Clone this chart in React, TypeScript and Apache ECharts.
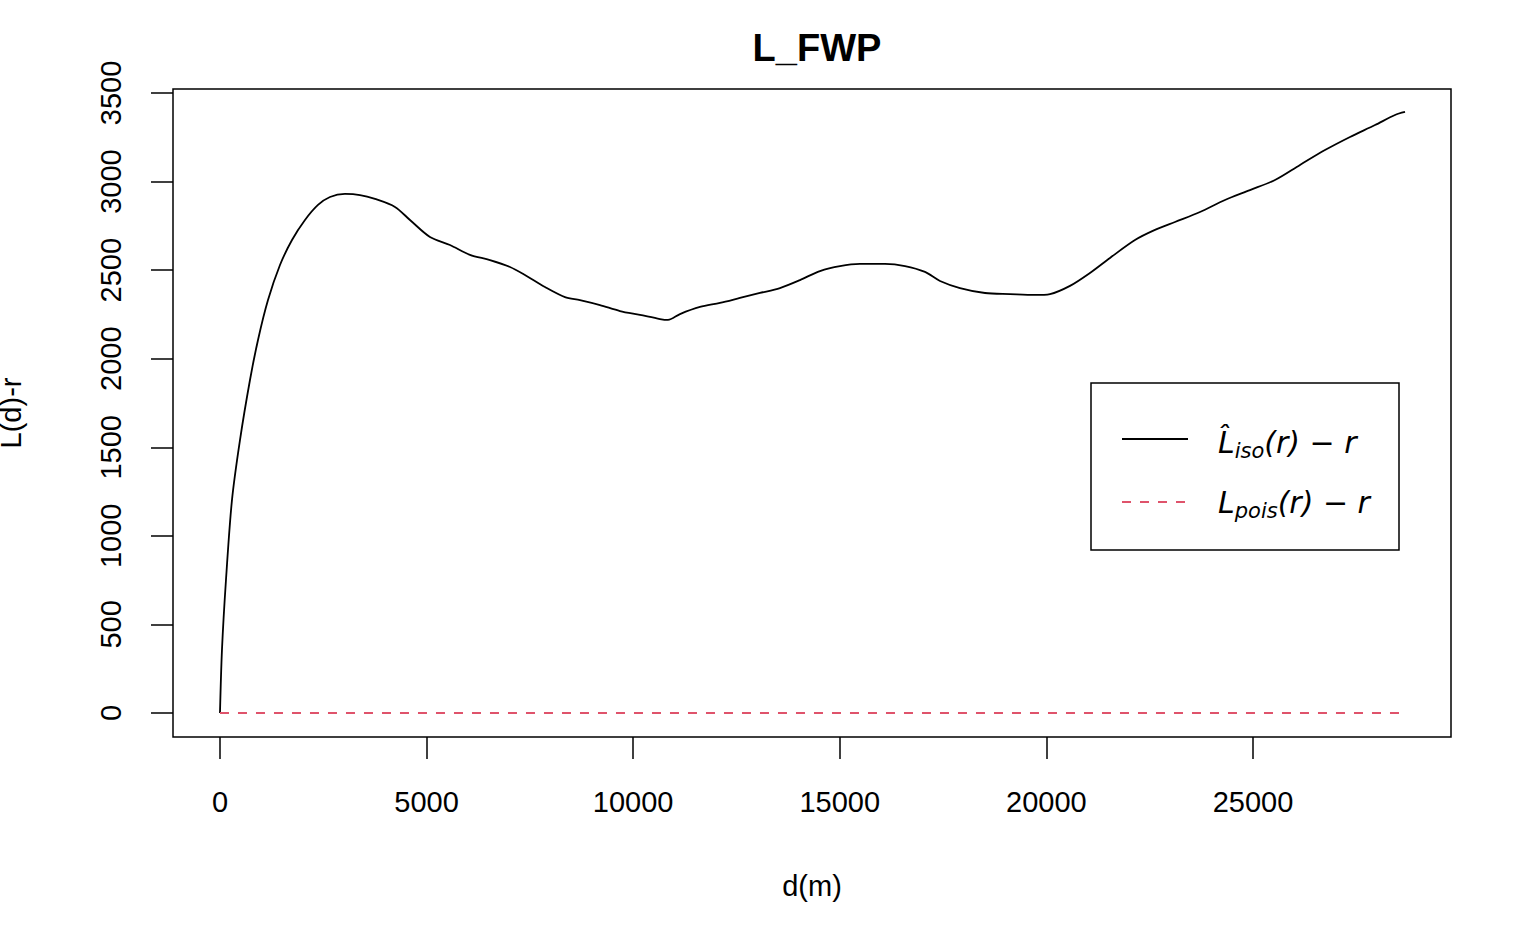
import React, { useEffect, useRef } from "react";
import * as echarts from "echarts";

const distances = [0, 48, 145, 290, 484, 726, 920, 1162, 1452, 1743, 2057, 2372, 2662, 3025, 3388, 3751, 4235, 4598, 5082, 5566, 6050, 6534, 7018, 7381, 7865, 8349, 8712, 9196, 9680, 10164, 10648, 10842, 11132, 11616, 12100, 12584, 13068, 13552, 14037, 14521, 15005, 15489, 16094, 16578, 17062, 17425, 17909, 18514, 19119, 19724, 20087, 20571, 21055, 21539, 22144, 22628, 23112, 23717, 24322, 24927, 25532, 26137, 26742, 27348, 27953, 28437, 28679];
const lIso = [0, 356, 751, 1202, 1541, 1880, 2106, 2331, 2529, 2670, 2783, 2868, 2913, 2930, 2924, 2902, 2857, 2783, 2687, 2642, 2586, 2557, 2518, 2473, 2405, 2348, 2331, 2303, 2269, 2247, 2224, 2219, 2252, 2292, 2315, 2343, 2371, 2399, 2444, 2495, 2523, 2535, 2535, 2523, 2490, 2439, 2399, 2371, 2365, 2360, 2365, 2411, 2484, 2569, 2670, 2727, 2772, 2828, 2896, 2952, 3009, 3094, 3178, 3252, 3319, 3376, 3393];
const poisX = [0, 28679];
const poisY = [0, 0];
const xTicks = [0, 5000, 10000, 15000, 20000, 25000];
const yTicks = [0, 500, 1000, 1500, 2000, 2500, 3000, 3500];

export default function App() {
  const ref = useRef<HTMLDivElement>(null);
  useEffect(() => {
    document.body.style.margin = "0";
    const chart = echarts.init(ref.current!, null, { renderer: "svg" });
    const font = "'Liberation Sans', Arial, sans-serif";
    const sub = {
      m: { fontFamily: "'DejaVu Sans'", fontStyle: "italic", fontSize: 30, color: "#000" },
      s: { fontFamily: "'DejaVu Sans'", fontStyle: "italic", fontSize: 21, color: "#000", padding: [18, 0, 0, 0] },
    };
    chart.setOption({
      animation: false,
      backgroundColor: "#fff",
      title: {
        text: "L_FWP", left: 812, top: 24, textAlign: "center",
        textStyle: { fontFamily: font, fontSize: 38, fontWeight: "bold", color: "#000" },
      },
      grid: { left: 173, top: 89, right: 69, bottom: 197, show: true, borderColor: "#000", borderWidth: 1.5, outerBoundsMode: "none", containLabel: false },
      xAxis: {
        type: "value", min: -1137, max: 29792,
        name: "d(m)", nameLocation: "middle", nameGap: 134,
        nameTextStyle: { fontFamily: font, fontSize: 29, color: "#000" },
        axisLine: { show: false, onZero: false },
        splitLine: { show: false },
        axisTick: { show: true, length: 22, inside: false, customValues: xTicks, lineStyle: { color: "#000", width: 1.5 } },
        axisLabel: { customValues: xTicks, margin: 50, fontFamily: font, fontSize: 29, color: "#000", formatter: (v: number) => String(v) },
      },
      yAxis: {
        type: "value", min: -135.5, max: 3522.6,
        name: "L(d)-r", nameLocation: "middle", nameGap: 148, nameRotate: 90,
        nameTextStyle: { fontFamily: font, fontSize: 29, color: "#000" },
        axisLine: { show: false, onZero: false },
        splitLine: { show: false },
        axisTick: { show: true, length: 22, inside: false, customValues: yTicks, lineStyle: { color: "#000", width: 1.5 } },
        axisLabel: { customValues: yTicks, rotate: 90, margin: 48, fontFamily: font, fontSize: 29, color: "#000", align: "center", verticalAlign: "bottom", formatter: (v: number) => String(v) },
      },
      series: [
        {
          type: "line", data: distances.map((d, i) => [d, lIso[i]]), showSymbol: false, smooth: 0.3,
          lineStyle: { color: "#000", width: 1.8 },
        },
        {
          type: "line", data: poisX.map((d, i) => [d, poisY[i]]), showSymbol: false,
          lineStyle: { color: "#DF536B", width: 1.8, type: [9, 9] },
        },
      ],
      graphic: [
        { type: "rect", shape: { x: 1091, y: 383, width: 308, height: 167 }, style: { fill: "#fff", stroke: "#000", lineWidth: 1.5 } },
        { type: "line", shape: { x1: 1122, y1: 439, x2: 1188, y2: 439 }, style: { stroke: "#000", lineWidth: 1.8 } },
        { type: "line", shape: { x1: 1122, y1: 502, x2: 1188, y2: 502 }, style: { stroke: "#DF536B", lineWidth: 1.8, lineDash: [9, 9] } },
        { type: "text", x: 1218, y: 442, style: { text: "{m|L̂}{s|iso}{m|(r) − r}", verticalAlign: "middle", rich: sub } },
        { type: "text", x: 1218, y: 502, style: { text: "{m|L}{s|pois}{m|(r) − r}", verticalAlign: "middle", rich: sub } },
      ],
    });
    return () => chart.dispose();
  }, []);
  return <div ref={ref} style={{ width: 1520, height: 934 }} />;
}
